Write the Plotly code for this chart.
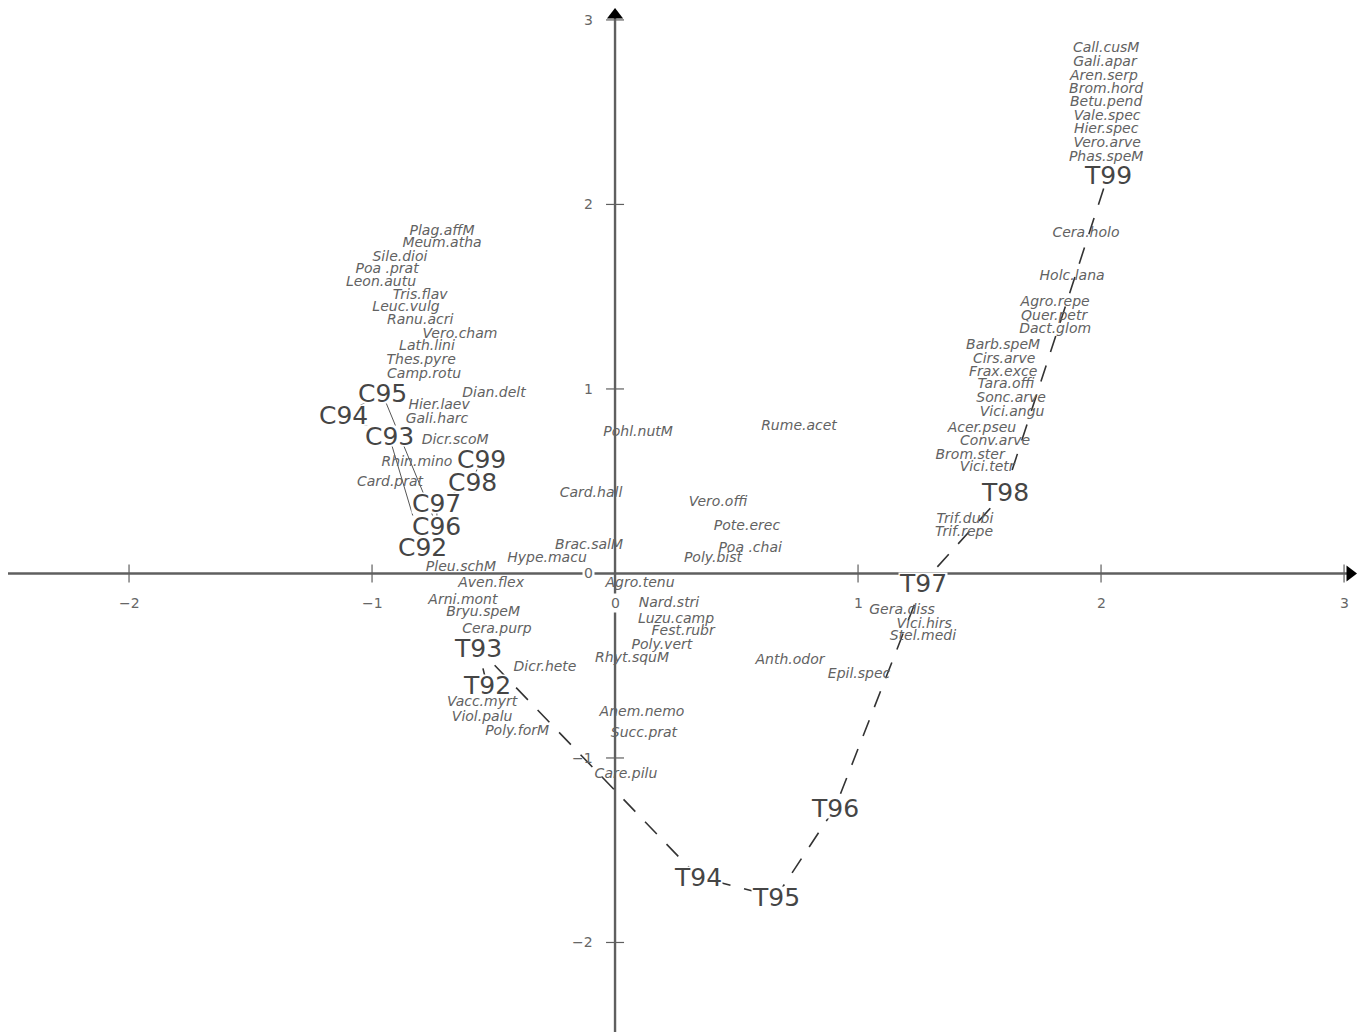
import plotly.graph_objects as go

# ---------------- data (ordination scores) ----------------
species = ["Call.cusM", "Gali.apar", "Aren.serp", "Brom.hord", "Betu.pend", "Vale.spec",
           "Hier.spec", "Vero.arve", "Phas.speM", "Cera.holo", "Holc.lana", "Agro.repe",
           "Quer.petr", "Dact.glom", "Barb.speM", "Cirs.arve", "Frax.exce", "Tara.offi",
           "Sonc.arve", "Vici.angu", "Acer.pseu", "Conv.arve", "Brom.ster", "Vici.tetr",
           "Trif.dubi", "Trif.repe", "Gera.diss", "Vici.hirs", "Stel.medi", "Epil.spec",
           "Anth.odor", "Rume.acet", "Pohl.nutM", "Card.hall", "Vero.offi", "Pote.erec",
           "Poa .chai", "Poly.bist", "Brac.salM", "Hype.macu", "Agro.tenu", "Nard.stri",
           "Luzu.camp", "Fest.rubr", "Poly.vert", "Rhyt.squM", "Anem.nemo", "Succ.prat",
           "Care.pilu", "Dicr.hete", "Cera.purp", "Bryu.speM", "Arni.mont", "Aven.flex",
           "Pleu.schM", "Vacc.myrt", "Viol.palu", "Poly.forM", "Card.prat", "Rhin.mino",
           "Dicr.scoM", "Hier.laev", "Gali.harc", "Dian.delt", "Camp.rotu", "Thes.pyre",
           "Lath.lini", "Vero.cham", "Ranu.acri", "Leuc.vulg", "Tris.flav", "Leon.autu",
           "Poa .prat", "Sile.dioi", "Meum.atha", "Plag.affM"]
species_x = [2.021, 2.016, 2.012, 2.021, 2.021, 2.025,
             2.021, 2.025, 2.021, 1.938, 1.881, 1.811,
             1.807, 1.811, 1.597, 1.601, 1.597, 1.609,
             1.630, 1.634, 1.510, 1.564, 1.461, 1.531,
             1.440, 1.436, 1.181, 1.272, 1.267, 1.004,
             0.720, 0.757, 0.095, -0.099, 0.424, 0.543,
             0.556, 0.403, -0.107, -0.280, 0.103, 0.222,
             0.251, 0.280, 0.193, 0.070, 0.111, 0.119,
             0.045, -0.288, -0.486, -0.543, -0.626, -0.510,
             -0.634, -0.547, -0.547, -0.403, -0.926, -0.815,
             -0.658, -0.724, -0.733, -0.498, -0.786, -0.798,
             -0.774, -0.638, -0.802, -0.860, -0.802, -0.963,
             -0.938, -0.885, -0.712, -0.712]
species_y = [2.843, 2.767, 2.691, 2.621, 2.550, 2.474,
             2.404, 2.333, 2.257, 1.840, 1.607, 1.466,
             1.390, 1.320, 1.233, 1.157, 1.087, 1.022,
             0.946, 0.875, 0.783, 0.713, 0.637, 0.572,
             0.295, 0.220, -0.203, -0.274, -0.344, -0.545,
             -0.474, 0.799, 0.762, 0.431, 0.382, 0.257,
             0.138, 0.079, 0.149, 0.079, -0.057, -0.165,
             -0.252, -0.317, -0.393, -0.463, -0.751, -0.870,
             -1.092, -0.507, -0.306, -0.209, -0.144, -0.057,
             0.035, -0.702, -0.778, -0.854, 0.491, 0.599,
             0.718, 0.908, 0.837, 0.978, 1.081, 1.152,
             1.228, 1.293, 1.369, 1.439, 1.504, 1.575,
             1.645, 1.715, 1.786, 1.856]

control_sites = ["C92", "C93", "C94", "C95", "C96", "C97", "C98", "C99"]
control_x = [-0.794, -0.930, -1.119, -0.959, -0.733, -0.733, -0.588, -0.551]
control_y = [0.144, 0.745, 0.859, 0.978, 0.257, 0.382, 0.496, 0.621]

treat_sites = ["T92", "T93", "T94", "T95", "T96", "T97", "T98", "T99"]
treat_x = [-0.527, -0.564, 0.342, 0.663, 0.905, 1.267, 1.605, 2.029]
treat_y = [-0.604, -0.404, -1.645, -1.753, -1.271, -0.051, 0.442, 2.160]

x_ticks = [-2, -1, 0, 1, 2, 3]
x_ticklabels = ["\u22122", "\u22121", "0", "1", "2", "3"]
y_ticks = [-2, -1, 0, 1, 2, 3]
y_ticklabels = ["\u22122", "\u22121", "0", "1", "2", "3"]

# ---------------- figure ----------------
W, H = 1363, 1034
X_RANGE = [-2.531, 3.078]
Y_RANGE = [-2.496, 3.108]
ux = (X_RANGE[1] - X_RANGE[0]) / W   # data units per pixel
uy = (Y_RANGE[1] - Y_RANGE[0]) / H

AXIS_COL = "#5f5f5f"
TXT_COL = "#626262"
SITE_COL = "#454545"

fig = go.Figure()

# trajectories
fig.add_trace(go.Scatter(x=control_x, y=control_y, mode="lines",
                         line=dict(color="#555555", width=1), hoverinfo="skip"))
fig.add_trace(go.Scatter(x=treat_x, y=treat_y, mode="lines",
                         line=dict(color="#333333", width=1.6, dash="17px,14px"),
                         hoverinfo="skip"))

# species labels
fig.add_trace(go.Scatter(x=species_x, y=species_y, mode="text", text=species,
                         textposition="middle center",
                         textfont=dict(family="DejaVu Sans", size=14, color=TXT_COL,
                                       style="italic"),
                         hoverinfo="skip"))

# axes (lines through the origin)
x_lo = X_RANGE[0] + 8 * ux
x_hi = X_RANGE[1] - 14 * ux
y_hi = Y_RANGE[1] - 16 * uy
y_lo = Y_RANGE[0] + 2 * uy
fig.add_shape(type="line", x0=x_lo, x1=x_hi, y0=0, y1=0, xref="x", yref="y",
              line=dict(color=AXIS_COL, width=2.4), layer="below")
fig.add_shape(type="line", x0=0, x1=0, y0=y_lo, y1=y_hi, xref="x", yref="y",
              line=dict(color=AXIS_COL, width=2.4), layer="below")

# arrowheads
fig.add_trace(go.Scatter(x=[X_RANGE[1] - 13 * ux], y=[0], mode="markers",
                         marker=dict(symbol="triangle-right", size=14, color="black"),
                         hoverinfo="skip"))
fig.add_trace(go.Scatter(x=[0], y=[Y_RANGE[1] - 15 * uy], mode="markers",
                         marker=dict(symbol="triangle-up", size=14, color="black"),
                         hoverinfo="skip"))

# ticks
tl = 9
for v in x_ticks:
    if v == 0:
        continue
    fig.add_shape(type="line", x0=v, x1=v, y0=-tl * uy, y1=tl * uy, xref="x", yref="y",
                  line=dict(color=AXIS_COL, width=1.2), layer="below")
for v in y_ticks:
    if v == 0:
        continue
    fig.add_shape(type="line", x0=-tl * ux, x1=tl * ux, y0=v, y1=v, xref="x", yref="y",
                  line=dict(color=AXIS_COL, width=1.2), layer="below")

tick_font = dict(family="DejaVu Sans", size=14, color="#666666")
for v, lab in zip(x_ticks, x_ticklabels):
    fig.add_annotation(x=v, y=-29.5 * uy, text=lab, showarrow=False, xanchor="center",
                       yanchor="middle", font=tick_font,
                       bgcolor="white" if v == 0 else None, borderpad=1)
for v, lab in zip(y_ticks, y_ticklabels):
    fig.add_annotation(x=-20 * ux, y=v, text=lab, showarrow=False, xanchor="right",
                       yanchor="middle", font=tick_font,
                       bgcolor="white" if v == 0 else None, borderpad=1)

# site labels (white boxes hide lines beneath)
site_font = dict(family="DejaVu Sans", size=25, color=SITE_COL)
for names, xs, ys in ((control_sites, control_x, control_y),
                      (treat_sites, treat_x, treat_y)):
    for n, xv, yv in zip(names, xs, ys):
        fig.add_annotation(x=xv, y=yv, text=n, showarrow=False, xanchor="center",
                           yanchor="middle", font=site_font, bgcolor="white",
                           borderpad=0, height=20)

fig.update_layout(
    width=W, height=H,
    margin=dict(l=0, r=0, t=0, b=0),
    paper_bgcolor="white", plot_bgcolor="white",
    showlegend=False,
    xaxis=dict(range=X_RANGE, visible=False, fixedrange=True),
    yaxis=dict(range=Y_RANGE, visible=False, fixedrange=True),
)

fig.write_html("out.html", config={"displayModeBar": False},
               post_script="document.body.style.margin='0';document.body.style.overflow='hidden';")
